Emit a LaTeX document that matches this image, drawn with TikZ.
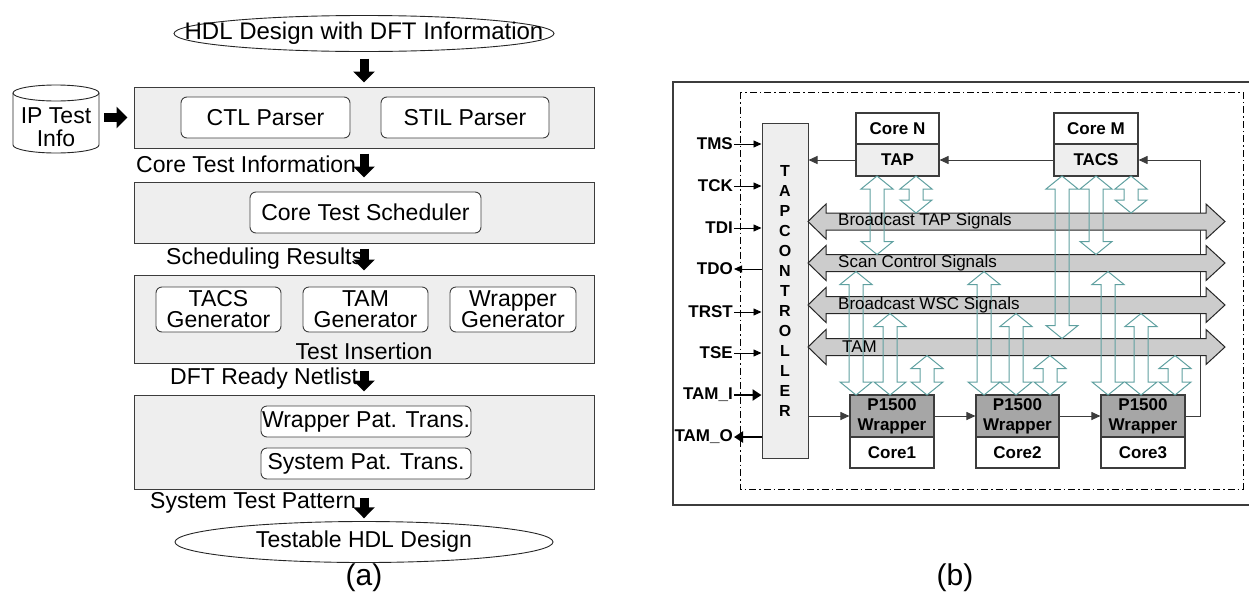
\documentclass[tikz,border=0pt]{standalone}
\usepackage{fontspec}
\setmainfont{Liberation Sans}
\usetikzlibrary{arrows.meta,shapes.geometric}
\definecolor{lg}{RGB}{238,238,238}
\definecolor{bandg}{RGB}{204,204,204}
\definecolor{wrapg}{RGB}{166,166,166}
\definecolor{tealc}{RGB}{95,160,160}
\definecolor{edgec}{RGB}{60,60,60}
\newcommand\tarr[3]{%
  \draw[tealc, line width=1pt, line join=miter] ({#1-7},{#2+13}) -- ({#1-16},{#2+13}) -- (#1,#2) -- ({#1+16},{#2+13}) -- ({#1+7},{#2+13}) -- ({#1+7},{#3-13}) -- ({#1+16},{#3-13}) -- (#1,#3) -- ({#1-16},{#3-13}) -- ({#1-7},{#3-13}) -- cycle;}
\newcommand\gband[1]{%
  \draw[draw=black!85, fill=bandg, line width=1pt] (808,#1) -- (826,{#1-17.5}) -- (826,{#1-8.5}) -- (1206,{#1-8.5}) -- (1206,{#1-17.5}) -- (1225,#1) -- (1206,{#1+17.5}) -- (1206,{#1+8.5}) -- (826,{#1+8.5}) -- (826,{#1+17.5}) -- cycle;}
\begin{document}
\begin{tikzpicture}[x=1pt,y=-1pt,
  fa/.style={font=\fontsize{23}{21}\selectfont},
  fbig/.style={font=\fontsize{30}{32}\selectfont},
  fb/.style={font=\fontsize{17}{20}\selectfont\bfseries},
  fbr/.style={font=\fontsize{17}{20}\selectfont},
  stage/.style={draw=edgec, fill=lg, line width=1pt, inner sep=0pt},
  tool/.style={draw=black!75, fill=white, rounded corners=6pt, line width=0.9pt, inner sep=0pt, fa, align=center},
  ovalline/.style={draw=black!85, fill=white, line width=0.9pt},
  blk/.style={line width=9pt, -{Triangle[width=21pt,length=11pt]}},
  cbox/.style={draw=edgec, line width=1.1pt, minimum width=83pt, inner sep=0pt, fb, align=center},
  pinlab/.style={fb, anchor=east, inner sep=1pt},
  pin/.style={line width=0.9pt, -{Triangle[width=7pt,length=8pt]}},
  tpin/.style={line width=2.6pt, -{Triangle[width=11pt,length=9pt]}},
  sig/.style={draw=edgec, line width=1pt, -{Triangle[width=8pt,length=9pt]}},
  bandlab/.style={fbr, anchor=west, inner sep=0pt}
]
\useasboundingbox (0,0) rectangle (1249,600);

% ---------------- (a) ----------------
\draw[ovalline] (364,33.5) ellipse [x radius=190, y radius=18];
\node[font=\fontsize{24}{26}\selectfont, inner sep=0pt, minimum width=380pt, minimum height=36pt] (e1) at (364,33.5) {HDL Design with DFT Information};

% cylinder
\draw[draw=black!85, fill=white, line width=0.9pt] (13,93) -- (13,145) arc[start angle=180, end angle=0, x radius=43, y radius=8] -- (99,93);
\draw[draw=black!85, fill=white, line width=0.9pt] (56,93) ellipse [x radius=43, y radius=8];
\node[font=\fontsize{23}{23}\selectfont, align=center, inner sep=0pt] (ip) at (56,127) {IP Test\\Info};

\node[stage, minimum width=460pt, minimum height=61pt] (b1) at (364,117.5) {};
\node[tool, minimum width=169pt, minimum height=41pt] (ctl) at (265.5,117.5) {CTL Parser};
\node[tool, minimum width=168pt, minimum height=41pt] (stil) at (465,117.5) {STIL Parser};

\node[fa, anchor=west, inner sep=0pt] (l1) at (136,164) {Core Test Information};
\node[stage, minimum width=460pt, minimum height=61pt] (b2) at (364,212.5) {};
\node[tool, minimum width=231pt, minimum height=41pt] (sch) at (365.5,212.5) {Core Test Scheduler};

\node[fa, anchor=west, inner sep=0pt] (l2) at (166,259) {Scheduling Results};
\node[stage, minimum width=460pt, minimum height=88pt] (b3) at (364,319) {};
\node[tool, minimum width=125pt, minimum height=45pt] (tg) at (218.5,309.5) {TACS\\Generator};
\node[tool, minimum width=125pt, minimum height=45pt] (mg) at (365.5,309.5) {TAM\\Generator};
\node[tool, minimum width=126pt, minimum height=45pt] (wg) at (513,309.5) {Wrapper\\Generator};
\node[fa, inner sep=0pt] (ti) at (364,351) {Test Insertion};

\node[fa, anchor=west, inner sep=0pt] (l3) at (170,379) {DFT Ready Netlist};
\node[stage, minimum width=460pt, minimum height=94pt] (b4) at (364,442) {};
\node[tool, minimum width=210pt, minimum height=31pt] (wpt) at (366,421.5) {Wrapper Pat. Trans.};
\node[tool, minimum width=210pt, minimum height=31pt] (spt) at (366,463.5) {System Pat. Trans.};

\node[fa, anchor=west, inner sep=0pt] (l4) at (150,503) {System Test Pattern};
\draw[ovalline] (364,542) ellipse [x radius=189, y radius=20.5];
\node[fa, inner sep=0pt, minimum width=378pt, minimum height=41pt] (e2) at (364,542) {Testable HDL Design};
\node[fbig] (capa) at (364,578) {(a)};

% block arrows
\draw[blk, shorten <=7pt, shorten >=4pt] (e1.south) -- (e1.south |- b1.north);
\draw[blk, shorten <=5pt, shorten >=6pt] (ip.east |- b1.west) ++(8,0) -- (b1.west);
\draw[blk, shorten <=5pt, shorten >=4pt] (b1.south) -- (b2.north);
\draw[blk, shorten <=5pt, shorten >=4pt] (b2.south) -- (b3.north);
\draw[blk, shorten <=7pt, shorten >=3pt] (b3.south) -- (b4.north);
\draw[blk, shorten <=8pt, shorten >=3pt] (b4.south) -- (b4.south |- e2.north);

% ---------------- (b) ----------------
\draw[draw=edgec, line width=1.3pt] (1252,82) -- (673,82) -- (673,505) -- (1252,505);
\draw[line width=0.8pt, dash pattern=on 7pt off 3pt on 1.5pt off 3pt] (740,92) rectangle (1243,489);

\node[draw=edgec, fill=lg, line width=1pt, minimum width=46pt, minimum height=335pt, inner sep=0pt, font=\fontsize{16}{20}\selectfont\bfseries, align=center] (ctrl) at (785,290.5) {T\\A\\P\\C\\O\\N\\T\\R\\O\\L\\L\\E\\R};

\node[cbox, fill=white, minimum height=31pt] (coren) at (897.5,128.5) {Core N};
\node[cbox, fill=lg, minimum height=32pt] (tapn) at (897.5,160) {TAP};
\node[cbox, fill=white, minimum height=31pt, minimum width=84pt] (corem) at (1096,128.5) {Core M};
\node[cbox, fill=lg, minimum height=32pt, minimum width=84pt] (tacs) at (1096,160) {TACS};

\node[cbox, fill=wrapg, minimum height=42pt, minimum width=84pt] (w1) at (892,416) {P1500\\Wrapper};
\node[cbox, fill=white, minimum height=31pt, minimum width=84pt] (c1) at (892,452.5) {Core1};
\node[cbox, fill=wrapg, minimum height=42pt] (w2) at (1017.5,416) {P1500\\Wrapper};
\node[cbox, fill=white, minimum height=31pt] (c2) at (1017.5,452.5) {Core2};
\node[cbox, fill=wrapg, minimum height=42pt, minimum width=84pt] (w3) at (1143,416) {P1500\\Wrapper};
\node[cbox, fill=white, minimum height=31pt, minimum width=84pt] (c3) at (1143,452.5) {Core3};

% pins
\node[pinlab] (tms) at (734,144) {TMS};
\node[pinlab] (tck) at (734,186) {TCK};
\node[pinlab] (tdi) at (734,228) {TDI};
\node[pinlab] (tdo) at (734,269) {TDO};
\node[pinlab] (trst) at (734,312) {TRST};
\node[pinlab] (tse) at (734,353) {TSE};
\node[pinlab] (tami) at (734,395) {TAM\_I};
\node[pinlab] (tamo) at (734,437) {TAM\_O};
\draw[pin] (tms.east) -- (tms.east -| ctrl.west);
\draw[pin] (tck.east) -- (tck.east -| ctrl.west);
\draw[pin] (tdi.east) -- (tdi.east -| ctrl.west);
\draw[pin] (tdo.east -| ctrl.west) -- (tdo.east);
\draw[pin] (trst.east) -- (trst.east -| ctrl.west);
\draw[pin] (tse.east) -- (tse.east -| ctrl.west);
\draw[tpin] (tami.east) -- (tami.east -| ctrl.west);
\draw[tpin] (tamo.east -| ctrl.west) -- (tamo.east);

% signal arrows
\draw[sig] (tapn.west) -- (tapn.west -| ctrl.east);
\draw[sig] (tacs.west) -- (tapn.east);
\draw[sig] (w3.east) -- ++(15,0) coordinate (rc) |- (tacs.east);
\draw[sig] (ctrl.east |- w1.west) -- (w1.west);
\draw[sig] (w1.east) -- (w2.west);
\draw[sig] (w2.east) -- (w3.west);

% bands
\gband{221.5}
\gband{263}
\gband{305}
\gband{347}

% teal arrows
\tarr{877}{176}{254.5}
\tarr{916}{176}{213}
\tarr{1062}{176}{338.5}
\tarr{1096}{176}{254.5}
\tarr{1131}{176}{213}
\tarr{856}{271.5}{395}
\tarr{890}{313.5}{395}
\tarr{927}{355.5}{395}
\tarr{984}{271.5}{395}
\tarr{1016}{313.5}{395}
\tarr{1050}{355.5}{395}
\tarr{1108}{271.5}{395}
\tarr{1141}{313.5}{395}
\tarr{1175}{355.5}{395}

\node[bandlab] (btap) at (838,221.5) {Broadcast TAP Signals};
\node[bandlab] (scs) at (838,263) {Scan Control Signals};
\node[bandlab] (bwsc) at (838,305) {Broadcast WSC Signals};
\node[bandlab] (tam) at (842,347) {TAM};

\node[fbig] (capb) at (955,578) {(b)};
\end{tikzpicture}
\end{document}
